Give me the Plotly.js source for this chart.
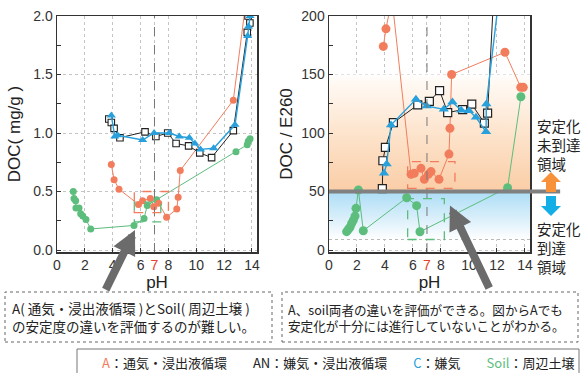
<!DOCTYPE html>
<html><head><meta charset="utf-8">
<script src="https://cdn.plot.ly/plotly-3.0.1.min.js"></script>
<style>html,body{margin:0;padding:0;background:#fff}#c{width:581px;height:373px}</style>
</head><body><div id="c"></div>
<script>
// ---- Left chart: DOC (mg/g) vs pH ----
const phA_L  = [3.9,4.1,4.45,5.85,6.15,6.7,6.95,7.3,7.87,8.6,8.7,8.85,12.66,13.7];
const docA_L = [0.73,0.60,0.52,0.39,0.42,0.44,0.37,0.40,0.28,0.35,0.45,0.68,1.28,2.25];
const phAN_L  = [3.72,3.9,4.1,4.52,6.32,7.1,7.95,8.55,9.45,10.25,11.1,12.66,13.66,13.85,13.72];
const docAN_L = [1.12,1.09,1.04,0.96,1.01,0.97,1.00,0.91,0.89,0.83,0.79,1.02,1.86,1.94,2.0];
const phC_L  = [3.9,4.15,4.35,6.15,6.97,8.06,8.78,9.5,9.9,10.3,11.25,12.78,13.69,13.75,13.86];
const docC_L = [1.15,0.97,0.98,0.94,1.0,1.0,0.97,0.96,0.91,0.86,0.87,1.07,1.83,1.91,2.0];
const phS_L  = [1.17,1.22,1.34,1.36,1.58,1.7,1.85,2.08,2.42,5.53,6.25,6.48,7.15,12.85,13.66,13.73,13.86];
const docS_L = [0.50,0.44,0.42,0.36,0.36,0.31,0.29,0.26,0.18,0.21,0.27,0.38,0.43,0.84,0.90,0.93,0.95];

// ---- Right chart: DOC / E260 vs pH ----
const phA_R  = [3.88,4.07,4.5,5.86,6.09,6.57,6.81,7.1,7.29,7.86,8.57,8.64,8.76,12.57,13.7,13.88];
const ratA_R = [174,189,215,64.7,65.5,69.8,60.4,64.7,67,60.4,82,104,150,169,139,139];
const phAN_R  = [3.81,3.85,4.03,4.6,6.34,7.17,7.9,8.48,9.55,10.2,11.1,11.33,12.66];
const ratAN_R = [52.5,76.3,87.7,108.8,124,127,136.2,117.4,120,124.6,108.5,117,424];
const phC_R  = [3.93,4.12,4.43,6.21,6.98,8.2,8.82,9.45,10.0,10.5,11.22,11.24,12.78];
const ratC_R = [65.5,73.5,106.8,128.8,123.1,120.2,126.4,119.4,119.1,113.4,101,124.8,280];
const phS_R  = [1.26,1.4,1.5,1.62,1.74,1.86,1.93,2.1,2.45,5.55,6.26,6.5,12.76,13.71];
const ratS_R = [15.7,18,19.4,22.8,25.6,29,35.6,51.3,16.5,44.7,37.9,15.6,53.3,131];

const xTicks = [0,2,4,6,7,8,10,12,14];
const xTickText = ['0','2','4','6','<span style="color:#e8402a">7</span>','8','10','12','14'];
const threshold = 50;      // stabilisation boundary
const lowerDot = 9;        // lower dotted reference
const neutralPH = 7;

const cRed = '#f27d5d', cBlue = '#27a0dc', cGreen = '#5cbd7c', cBlack = '#222';
const XMAX = 14.36;
const W = 581, H = 373;

function tr(x, y, color, sym, size, ax, opts) {
  opts = opts || {};
  return {
    x: x, y: y, xaxis: ax[0], yaxis: ax[1], type: 'scatter', mode: 'lines+markers',
    line: {color: opts.lineColor || color, width: opts.lw || 1},
    marker: {color: opts.fill || color, symbol: sym, size: size,
             line: {color: opts.mlc || color, width: opts.mlw || 0}},
    showlegend: false, hoverinfo: 'skip', cliponaxis: true
  };
}
const L = ['x','y'], R = ['x2','y2'];

// block arrow (decoration) as a paper-referenced path
function blockArrow(cx, tailY, tipY, color) {
  const d = Math.sign(tipY - tailY), headBase = tipY - d * 10;
  const pts = [[cx-5,tailY],[cx+5,tailY],[cx+5,headBase],[cx+10,headBase],[cx,tipY],[cx-10,headBase],[cx-5,headBase]];
  const path = 'M' + pts.map(p => (p[0]/W).toFixed(5) + ',' + (1 - p[1]/H).toFixed(5)).join(' L') + ' Z';
  return {type:'path', xref:'paper', yref:'paper', path: path, fillcolor: color, line:{width:0}};
}

const bandOrange = {
  x: [0, XMAX, XMAX, 0], y: [threshold, threshold, 150, 150], xaxis: 'x2', yaxis: 'y2',
  type: 'scatter', mode: 'none', fill: 'toself', showlegend: false, hoverinfo: 'skip',
  fillgradient: {type: 'vertical', start: threshold, stop: 150,
    colorscale: [[0,'rgb(250,205,166)'],[0.5,'rgb(253,228,205)'],[0.95,'rgb(255,250,245)'],[1,'rgb(255,255,255)']]}
};
const bandBlue = {
  x: [0, XMAX, XMAX, 0], y: [lowerDot, lowerDot, threshold, threshold], xaxis: 'x2', yaxis: 'y2',
  type: 'scatter', mode: 'none', fill: 'toself', showlegend: false, hoverinfo: 'skip',
  fillgradient: {type: 'vertical', start: lowerDot, stop: threshold,
    colorscale: [[0,'rgb(255,255,255)'],[0.35,'rgb(225,242,251)'],[1,'rgb(172,221,246)']]}
};

const data = [
  bandOrange, bandBlue,
  tr(phS_L, docS_L, cGreen, 'circle', 7, L),
  tr(phA_L, docA_L, cRed, 'circle', 7, L),
  tr(phAN_L, docAN_L, cBlack, 'square', 6.5, L, {fill:'#fff', mlc:cBlack, mlw:1.1}),
  tr(phC_L, docC_L, cBlue, 'triangle-up', 8, L, {lw:1.4}),
  tr(phS_R, ratS_R, cGreen, 'circle', 9, R),
  tr(phA_R, ratA_R, cRed, 'circle', 9, R),
  tr(phAN_R, ratAN_R, cBlack, 'square', 8, R, {fill:'#fff', mlc:cBlack, mlw:1.2}),
  tr(phC_R, ratC_R, cBlue, 'triangle-up', 9, R, {lw:1.4})
];

const tickFont = {family: 'Liberation Sans, Arial, sans-serif', size: 14, color: '#333'};
const titleFont = {family: 'Liberation Sans, Arial, sans-serif', size: 17, color: '#222'};
function xAxis(dom, anchor) {
  return {domain: dom, anchor: anchor, range: [0, XMAX], tickvals: xTicks, ticktext: xTickText,
    ticks: 'inside', ticklen: 4, tickcolor: '#333', showline: true, mirror: true, linecolor: '#333', linewidth: 1.5,
    showgrid: true, gridcolor: '#c4c4c4', griddash: 'dot', gridwidth: 1, zeroline: false,
    tickfont: tickFont, title: {text: 'pH', font: titleFont, standoff: 4}};
}
const ydom = [1 - 252/H, 1 - 16/H];
const arrowFont = {size: 1, color: 'rgba(0,0,0,0)'};
const layout = {
  width: W, height: H, margin: {l: 0, r: 0, t: 0, b: 0},
  paper_bgcolor: '#fff', plot_bgcolor: 'rgba(0,0,0,0)',
  xaxis: xAxis([57/W, 257/W], 'y'),
  xaxis2: xAxis([329/W, 530/W], 'y2'),
  yaxis: {domain: ydom, anchor: 'x', range: [-0.017, 2.0], dtick: 0.5, tick0: 0, tickformat: '.1f',
    ticks: 'inside', ticklen: 4, tickcolor: '#333', showline: true, mirror: true, linecolor: '#333', linewidth: 1.5,
    showgrid: true, gridcolor: '#c4c4c4', griddash: 'dot', zeroline: false,
    minor: {dtick: 0.25, ticks: 'inside', ticklen: 4, tickcolor: '#333', showgrid: false},
    tickfont: tickFont, title: {text: 'DOC( mg/g )', font: titleFont, standoff: 8}},
  yaxis2: {domain: ydom, anchor: 'x2', range: [-1.7, 200], dtick: 50, tick0: 0,
    ticks: 'inside', ticklen: 4, tickcolor: '#333', showline: true, mirror: true, linecolor: '#333', linewidth: 1.5,
    showgrid: true, gridcolor: '#c4c4c4', griddash: 'dot', zeroline: false,
    minor: {dtick: 25, ticks: 'inside', ticklen: 4, tickcolor: '#333', showgrid: false},
    tickfont: tickFont, title: {text: 'DOC / E260', font: titleFont, standoff: 4}},
  shapes: [
    {type:'line', xref:'x', yref:'paper', x0:neutralPH, x1:neutralPH, y0:ydom[0], y1:ydom[1], line:{color:'#777', width:1, dash:'dash'}},
    {type:'line', xref:'x2', yref:'paper', x0:neutralPH, x1:neutralPH, y0:ydom[0], y1:ydom[1], line:{color:'#777', width:1, dash:'dash'}},
    {type:'line', xref:'x2', yref:'y2', x0:0, x1:XMAX, y0:lowerDot, y1:lowerDot, line:{color:'#b8b8b8', width:1, dash:'dot'}},
    {type:'line', xref:'x2 domain', yref:'y2', x0:0, x1:1.15, y0:threshold, y1:threshold, line:{color:'#808080', width:4}},
    // dashed highlight boxes
    {type:'rect', xref:'x', yref:'y', x0:5.55, x1:8.0, y0:0.32, y1:0.5, line:{color:'#f27d5d', width:1.3, dash:'dash'}},
    {type:'rect', xref:'x', yref:'y', x0:5.55, x1:7.45, y0:0.24, y1:0.41, line:{color:'#5cbd7c', width:1.3, dash:'dash'}},
    {type:'rect', xref:'x2', yref:'y2', x0:5.62, x1:9.0, y0:52.7, y1:75.5, line:{color:'#f27d5d', width:1.3, dash:'dash'}},
    {type:'rect', xref:'x2', yref:'y2', x0:5.62, x1:8.24, y0:9, y1:44, line:{color:'#5cbd7c', width:1.3, dash:'dash'}},
    // comment boxes
    {type:'rect', xref:'paper', yref:'paper', x0:5/W, x1:272/W, y0:1-342/H, y1:1-292/H, line:{color:'#666', width:1, dash:'dot'}},
    {type:'rect', xref:'paper', yref:'paper', x0:282/W, x1:578/W, y0:1-342/H, y1:1-292/H, line:{color:'#666', width:1, dash:'dot'}},
    // legend box
    {type:'rect', xref:'paper', yref:'paper', x0:77/W, x1:579/W, y0:-0.05, y1:1-349/H, line:{color:'#777', width:1}},
    // orange / blue block arrows
    blockArrow(551, 192, 172, '#f7923a'),
    blockArrow(551, 196, 216, '#14aee6')
  ],
  annotations: [
    {xref:'x', yref:'y', x:5.6, y:0.17, ax:-30, ay:61, showarrow:true, arrowhead:2, arrowsize:0.6, arrowwidth:8, arrowcolor:'#6b6b6b', text:'', font:arrowFont},
    {xref:'x2', yref:'y2', x:8.64, y:38, ax:40, ay:84, showarrow:true, arrowhead:2, arrowsize:0.6, arrowwidth:8, arrowcolor:'#6b6b6b', text:'', font:arrowFont},
    {xref:'paper', yref:'paper', x:535/W, y:1-144/H, xanchor:'left', yanchor:'middle', showarrow:false, align:'left',
     text:'安定化<br>未到達<br>領域', font:{family:'Noto Sans CJK JP', size:14.5, color:'#222'}},
    {xref:'paper', yref:'paper', x:535/W, y:1-247/H, xanchor:'left', yanchor:'middle', showarrow:false, align:'left',
     text:'安定化<br>到達<br>領域', font:{family:'Noto Sans CJK JP', size:14.5, color:'#222'}},
    {xref:'paper', yref:'paper', x:10/W, y:1-317/H, xanchor:'left', yanchor:'middle', showarrow:false, align:'left',
     text:'A( 通気・浸出液循環 )とSoil( 周辺土壌 )<br>の安定度の違いを評価するのが難しい。', font:{family:'Noto Sans CJK JP', size:13.5, color:'#222'}},
    {xref:'paper', yref:'paper', x:286/W, y:1-317/H, xanchor:'left', yanchor:'middle', showarrow:false, align:'left',
     text:'A、soil両者の違いを評価ができる。図からAでも<br>安定化が十分には進行していないことがわかる。', font:{family:'Noto Sans CJK JP', size:12.6, color:'#222'}},
    {xref:'paper', yref:'paper', x:100/W, y:1-362/H, xanchor:'left', yanchor:'middle', showarrow:false, align:'left',
     text:'<span style="color:#f27d5d">A</span>：通気・浸出液循環　　AN：嫌気・浸出液循環　　<span style="color:#27a0dc">C</span>：嫌気　　<span style="color:#5cbd7c">Soil</span>：周辺土壌',
     font:{family:'Noto Sans CJK JP', size:13, color:'#222'}}
  ]
};
Plotly.newPlot('c', data, layout, {staticPlot: true});
</script></body></html>
